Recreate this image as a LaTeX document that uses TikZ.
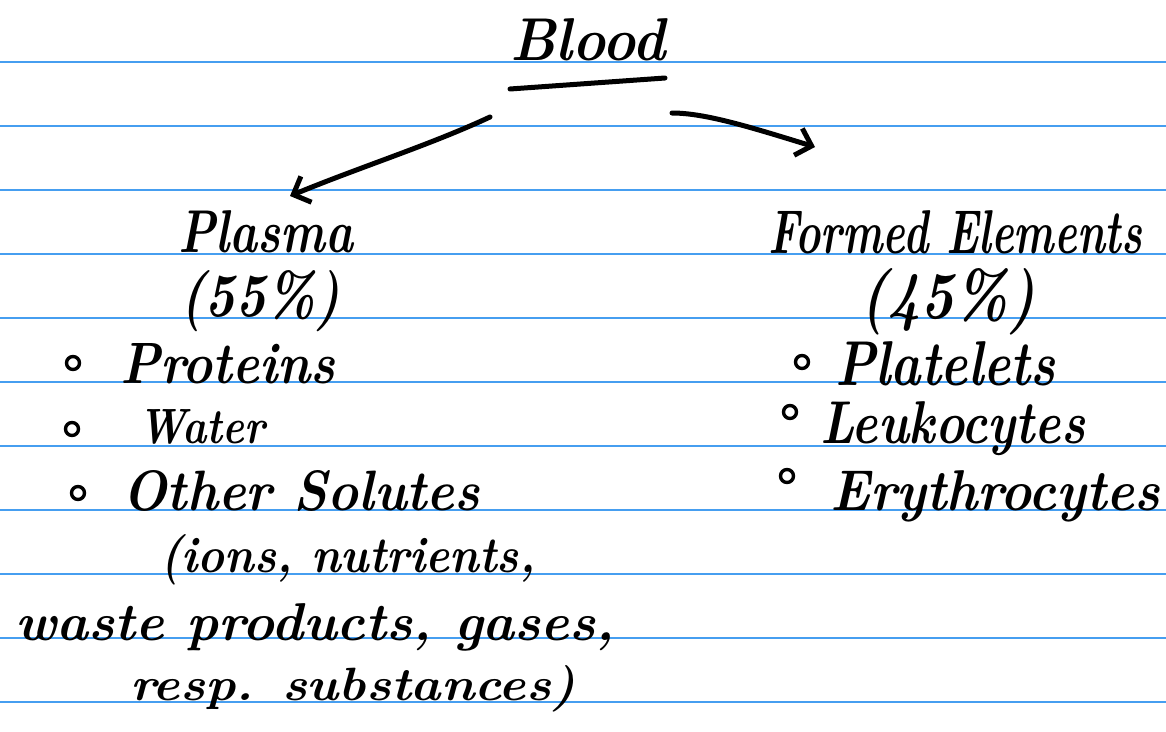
\documentclass[tikz,border=0pt]{standalone}
\usetikzlibrary{arrows.meta}
\definecolor{ruled}{RGB}{70,158,240}
\newcommand\fitwh[3]{\resizebox{#1pt}{#2pt}{\fontsize{50}{60}\selectfont\bfseries\itshape #3}}
\tikzset{
  hand/.style={anchor=base west, inner sep=0pt, text=black},
  ruleline/.style={draw=ruled, line width=1.3pt},
  ink/.style={draw=black, line width=5pt, line cap=round, line join=round},
  inkarrow/.style={ink, -{Straight Barb[length=14pt,width=28pt,line width=5pt]}},
  bulletdot/.style={draw=black, line width=3.4pt, circle, minimum size=13pt, inner sep=0pt}
}
\begin{document}
\begin{tikzpicture}[x=1pt,y=-1pt]
\useasboundingbox (0,0) rectangle (1166,731);
\fill[white] (0,0) rectangle (1166,731);
% ruled lines
\foreach \k in {0,...,10}{
  \draw[ruleline] (0,{62+64*\k}) -- (1166,{62+64*\k});
}
% title
\node[hand] (blood) at (510,60) {\fitwh{155}{42}{Blood}};
\draw[ink] (510,89) -- (665,78);
% left branch
\node[hand] (plasma) at (178,252) {\fitwh{175}{42}{Plasma}};
\node[hand] (p55) at (180,316) {\fitwh{160}{46}{(55\%)}};
\node[bulletdot] (b1) at (73,363) {};
\node[hand] (proteins) at (120,383) {\fitwh{215}{40}{Proteins}};
\node[bulletdot] (b2) at (72,429) {};
\node[hand] (water) at (138,443) {\fitwh{127}{34}{Water}};
\node[bulletdot] (b3) at (78,493) {};
\node[hand] (other) at (122,510) {\fitwh{358}{40}{Other Solutes}};
\node[hand] (ions) at (160,572) {\fitwh{375}{38}{(ions, nutrients,}};
\node[hand] (waste) at (15,640) {\fitwh{600}{37}{waste products, gases,}};
\node[hand] (resp) at (130,700) {\fitwh{445}{35}{resp. substances)}};
% right branch
\node[hand] (formed) at (768,253) {\fitwh{374}{43}{Formed Elements}};
\node[hand] (p45) at (860,318) {\fitwh{175}{50}{(45\%)}};
\node[bulletdot] (b4) at (802,362) {};
\node[hand] (platelets) at (835,385) {\fitwh{220}{44}{Platelets}};
\node[bulletdot] (b5) at (790,412) {};
\node[hand] (leuko) at (820,443) {\fitwh{265}{42}{Leukocytes}};
\node[bulletdot] (b6) at (787,476) {};
\node[hand] (eryth) at (830,510) {\fitwh{330}{40}{Erythrocytes}};
% arrows
\coordinate (ls) at (490,117);
\coordinate (le) at (290,196);
\coordinate (rs) at (672,113);
\coordinate (re) at (815,147);
\draw[inkarrow] (ls) .. controls (430,145) and (360,167) .. (le);
\draw[inkarrow] (rs) .. controls (705,113) and (750,127) .. (re);
\end{tikzpicture}
\end{document}
